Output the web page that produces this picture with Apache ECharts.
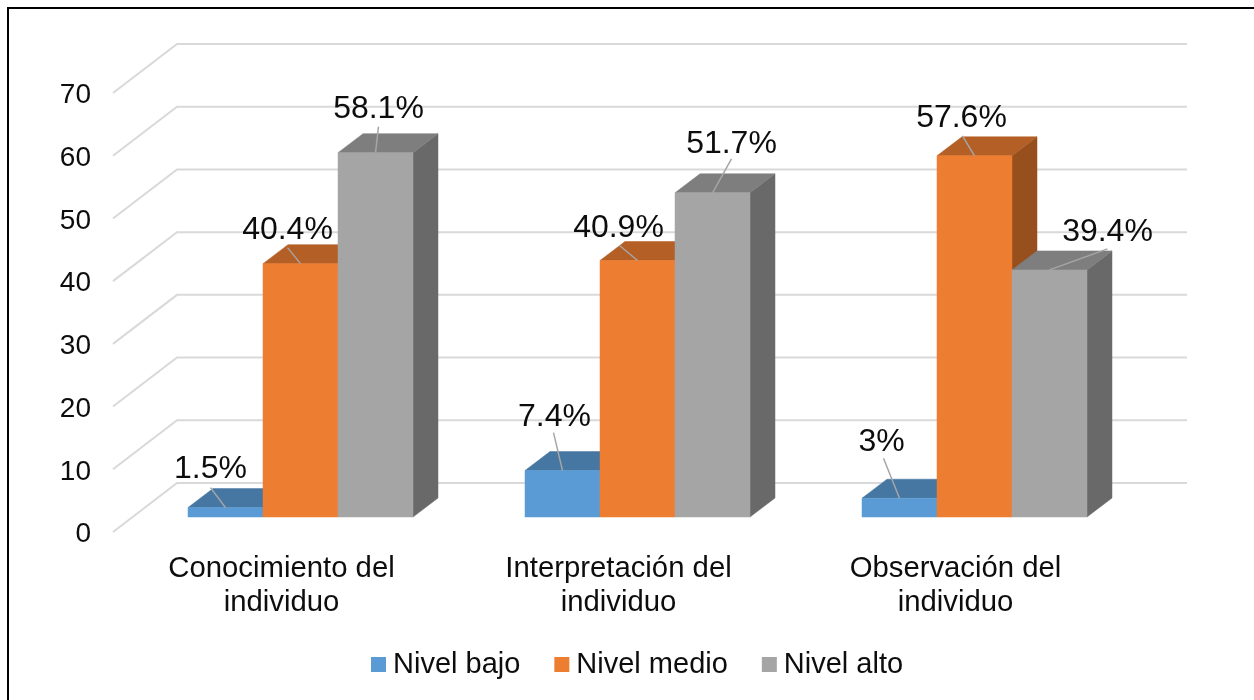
<!DOCTYPE html>
<html>
<head>
<meta charset="utf-8">
<style>html,body{margin:0;padding:0;background:#fff}#c{width:1254px;height:700px}</style>
<script src="https://cdn.jsdelivr.net/npm/echarts@6/dist/echarts.min.js"></script>
</head>
<body>
<div id="c"></div>
<script>
const categories = ["Conocimiento del\nindividuo", "Interpretación del\nindividuo", "Observación del\nindividuo"];
const tickValues = [0, 10, 20, 30, 40, 50, 60, 70];
const seriesNames = ["Nivel bajo", "Nivel medio", "Nivel alto"];
const nivelBajo = [1.5, 7.4, 3];
const nivelMedio = [40.4, 40.9, 57.6];
const nivelAlto = [58.1, 51.7, 39.4];
const seriesValues = [nivelBajo, nivelMedio, nivelAlto];

// Layout and style (separate from data)
const frontColors = ["#5B9BD5", "#ED7D31", "#A5A5A5"];
const topColors = ["#4676A2", "#B45F25", "#7E7E7E"];
const sideColors = ["#3B6389", "#974F1E", "#696969"];
const BAR_W = 75, DEPTH_X = 25, DEPTH_Y = 19;   // bar size and depth
const FRONT_DX = 19, FRONT_DY = 15;             // floor front edge -> bar front plane
const WALL_DX = 64, WALL_DY = 49;               // floor front edge -> back wall
// label centre and leader-line top, relative to the top-front centre of each bar
const labelOffsets = [
  [[-15, -38], [-13, -33], [3, -43]],
  [[-8, -53], [-19, -32], [19, -49]],
  [[-18, -56], [-13, -38], [58, -38]]
];
const leaderOffsets = [
  [[-15, -20], [-13, -16], [3, -26]],
  [[-9, -38], [-18, -15], [19, -34]],
  [[-16, -40], [-12, -20], [58, -21]]
];
const FONT = '"Liberation Sans", Arial, sans-serif';
const TEXT = "#0d0d0d";

function poly(points, fill) {
  return { type: "polygon", shape: { points }, style: { fill, stroke: fill, lineWidth: 0.5 } };
}

function barSeries(name, s) {
  return {
    name, type: "custom", coordinateSystem: "cartesian2d", z: 3,
    itemStyle: { color: frontColors[s] },
    data: seriesValues[s].map((v, i) => [i, v]),
    encode: { x: 0, y: 1 },
    renderItem(params, api) {
      const top = api.coord([api.value(0), api.value(1)]);
      const base = api.coord([api.value(0), 0]);
      const x0 = top[0] + FRONT_DX - 1.5 * BAR_W + s * BAR_W;
      const x1 = x0 + BAR_W;
      const yT = top[1] - FRONT_DY, yB = base[1] - FRONT_DY;
      return { type: "group", children: [
        poly([[x1, yT], [x1 + DEPTH_X, yT - DEPTH_Y], [x1 + DEPTH_X, yB - DEPTH_Y], [x1, yB]], sideColors[s]),
        poly([[x0, yT], [x0 + DEPTH_X, yT - DEPTH_Y], [x1 + DEPTH_X, yT - DEPTH_Y], [x1, yT]], topColors[s]),
        poly([[x0, yT], [x1, yT], [x1, yB], [x0, yB]], frontColors[s])
      ]};
    }
  };
}

function labelSeries(s) {
  return {
    name: seriesNames[s] + " etiquetas", type: "custom", coordinateSystem: "cartesian2d", z: 5, silent: true,
    data: seriesValues[s].map((v, i) => [i, v]),
    encode: { x: 0, y: 1 },
    renderItem(params, api) {
      const i = api.value(0), v = api.value(1);
      const top = api.coord([i, v]);
      const cx = top[0] + FRONT_DX - 1.5 * BAR_W + (s + 0.5) * BAR_W;
      const cy = top[1] - FRONT_DY;
      const lo = labelOffsets[i][s], le = leaderOffsets[i][s];
      return { type: "group", children: [
        { type: "line", shape: { x1: cx, y1: cy, x2: cx + le[0], y2: cy + le[1] }, style: { stroke: "#A6A6A6", lineWidth: 1.5 } },
        { type: "text", style: { text: v + "%", x: cx + lo[0], y: cy + lo[1], align: "center", verticalAlign: "middle", fill: TEXT, font: "32px " + FONT } }
      ]};
    }
  };
}

const gridSeries = {
  name: "grid", type: "custom", coordinateSystem: "cartesian2d", z: 1, silent: true,
  data: tickValues.map(v => [0, v]),
  encode: { x: 0, y: 1 },
  renderItem(params, api) {
    const p = api.coord([0, api.value(1)]);
    const band = api.size([1, 0])[0];
    const left = p[0] - band / 2, right = left + band * categories.length;
    return { type: "polyline",
      shape: { points: [[left, p[1]], [left + WALL_DX, p[1] - WALL_DY], [right + WALL_DX - 1, p[1] - WALL_DY]] },
      style: { stroke: "#D9D9D9", lineWidth: 2, fill: "none" } };
  }
};

const chart = echarts.init(document.getElementById("c"), null, { renderer: "canvas" });
chart.setOption({
  animation: false,
  backgroundColor: "#fff",
  graphic: [
    { type: "line", silent: true, shape: { x1: 7, y1: 8, x2: 1254, y2: 8 }, style: { stroke: "#000", lineWidth: 2 } },
    { type: "line", silent: true, shape: { x1: 8, y1: 7, x2: 8, y2: 700 }, style: { stroke: "#000", lineWidth: 2 } }
  ],
  grid: { left: 113, top: 93, width: 1011, height: 439, containLabel: false },
  legend: {
    left: 366, top: 645, icon: "rect", itemWidth: 15, itemHeight: 15, itemGap: 34, selectedMode: false,
    data: seriesNames,
    textStyle: { fontFamily: FONT, fontSize: 29, color: TEXT, padding: [0, 0, 0, 2] }
  },
  xAxis: {
    type: "category", data: categories,
    axisLine: { show: false }, axisTick: { show: false }, splitLine: { show: false },
    axisLabel: { fontFamily: FONT, fontSize: 29.3, color: TEXT, lineHeight: 34, margin: 20, interval: 0 }
  },
  yAxis: {
    type: "value", min: 0, max: 70, interval: 10,
    axisLine: { show: false }, axisTick: { show: false }, splitLine: { show: false },
    axisLabel: { fontFamily: FONT, fontSize: 28, color: TEXT, margin: 22, verticalAlign: "top", lineHeight: 5 }
  },
  series: [gridSeries, barSeries(seriesNames[0], 0), barSeries(seriesNames[1], 1), barSeries(seriesNames[2], 2),
    labelSeries(0), labelSeries(1), labelSeries(2)]
});
</script>
</body>
</html>
